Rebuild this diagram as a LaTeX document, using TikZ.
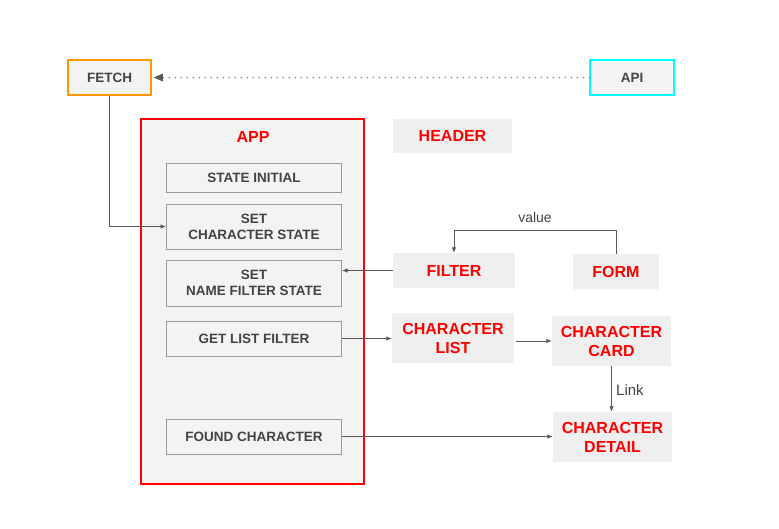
\documentclass[tikz,border=0pt]{standalone}
\usepackage{fontspec}
\setmainfont{Liberation Sans}
\usetikzlibrary{arrows.meta}
\definecolor{boxfill}{HTML}{F3F3F3}
\definecolor{redfill}{HTML}{EFEFEF}
\definecolor{boxline}{HTML}{999999}
\definecolor{txtgray}{HTML}{434343}
\definecolor{conn}{HTML}{595959}
\definecolor{appred}{HTML}{FF0000}
\definecolor{fetchor}{HTML}{FF9900}
\definecolor{apicyan}{HTML}{00FFFF}
\begin{document}
\begin{tikzpicture}[x=1pt,y=-1pt,
  base/.style={inner sep=0pt, align=center, font=\bfseries\fontsize{13.5}{16}\selectfont, text=txtgray},
  statebox/.style={base, draw=boxline, line width=1pt, fill=boxfill, minimum width=175pt},
  extbox/.style={base, fill=boxfill, line width=1.5pt, minimum width=83pt, minimum height=35pt},
  redbox/.style={inner sep=0pt, align=center, fill=redfill, text=appred, font=\bfseries\fontsize{16}{19}\selectfont},
  arr/.style={draw=conn, line width=0.8pt, -{Latex[length=5.5pt,width=4.5pt]}},
  lbl/.style={inner sep=1pt, text=txtgray, font=\fontsize{14}{16}\selectfont}
]
\useasboundingbox (0,0) rectangle (779,528);
\fill[white] (0,0) rectangle (779,528);

% external boxes
\node[extbox, draw=fetchor] (fetch) at (109.5,77.5) {FETCH};
\node[extbox, draw=apicyan, minimum width=84pt] (api) at (632,77.5) {API};

% APP container
\node[draw=appred, line width=1.5pt, fill=boxfill, minimum width=223pt, minimum height=365pt, inner sep=0pt] (app) at (252.5,301.5) {};
\node[inner sep=0pt, text=appred, font=\bfseries\fontsize{16}{19}\selectfont] (apptitle) at (253,137) {APP};

\node[statebox, minimum height=29pt] (init) at (254,177.5) {STATE INITIAL};
\node[statebox, minimum height=45pt] (setchar) at (254,226.5) {SET\\CHARACTER STATE};
\node[statebox, minimum height=46pt] (setname) at (254,283) {SET\\NAME FILTER STATE};
\node[statebox, minimum height=35pt] (getlist) at (254,338.5) {GET LIST FILTER};
\node[statebox, minimum height=35pt] (found) at (254,436.5) {FOUND CHARACTER};

% red-label boxes
\node[redbox, minimum width=119pt, minimum height=34pt] (header) at (452.5,136) {HEADER};
\node[redbox, minimum width=122pt, minimum height=35pt] (filter) at (454,270.5) {FILTER};
\node[redbox, minimum width=86pt, minimum height=35pt] (form) at (616,271.5) {FORM};
\node[redbox, minimum width=122pt, minimum height=50pt] (clist) at (453,338) {CHARACTER\\LIST};
\node[redbox, minimum width=119pt, minimum height=50pt] (ccard) at (611.5,341) {CHARACTER\\CARD};
\node[redbox, minimum width=119pt, minimum height=50pt] (cdetail) at (612.5,437) {CHARACTER\\DETAIL};

% connectors
\draw[draw=boxline, line width=2pt, line cap=round, dash pattern=on 0pt off 6pt, shorten >=2pt]
  (api.west) -- (fetch.east);
\fill[conn] (fetch.east) ++(2,0) -- ++(9,-4) -- ++(0,8) -- cycle;

\draw[arr] (fetch.south) |- (setchar.west);

\draw[arr] (form.north) -- ++(0,-23) -| (filter.north);
\node[lbl, anchor=south] (value) at (535,224) {value};

\draw[arr] (filter.west) -- (filter.west -| setname.east);
\draw[arr] (getlist.east) -- (getlist.east -| clist.west);
\draw[arr] ([xshift=2pt]clist.east |- ccard.west) -- (ccard.west);
\draw[arr] (ccard.south) -- (ccard.south |- cdetail.north);
\node[lbl, anchor=west, font=\fontsize{15}{17}\selectfont] (link) at (615,390) {Link};
\draw[arr] (found.east) -- (found.east -| cdetail.west);
\end{tikzpicture}
\end{document}
